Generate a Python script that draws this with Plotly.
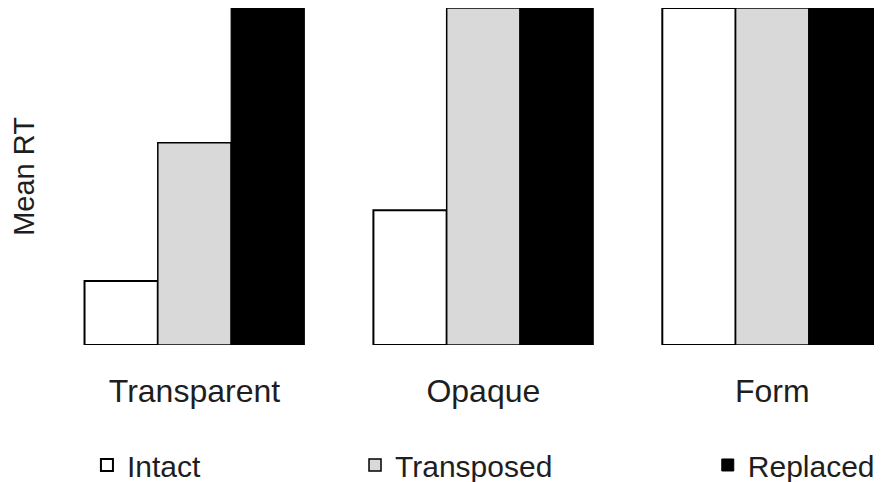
import plotly.graph_objects as go

categories = ["Transparent", "Opaque", "Form"]
series_names = ["Intact", "Transposed", "Replaced"]
intact = [0.19, 0.40, 1.0]
transposed = [0.60, 1.0, 1.0]
replaced = [1.0, 1.0, 1.0]

fills = ["#ffffff", "#d9d9d9", "#000000"]
line_widths = [2, 1.5, 1]
legend_ids = ["legend2", "legend3", "legend4"]

fig = go.Figure()
for name, vals, fc, lw, lg in zip(series_names, [intact, transposed, replaced], fills, line_widths, legend_ids):
    fig.add_trace(go.Bar(
        x=categories, y=vals, name=name,
        marker=dict(color=fc, line=dict(color="#000000", width=lw)),
        legend=lg,
    ))

font_family = "Liberation Sans, Arial, sans-serif"
leg_common = dict(orientation="h", xanchor="left", yanchor="middle", y=-0.356,
                  font=dict(family=font_family, size=30, color="#1e1e1e"),
                  bgcolor="rgba(0,0,0,0)", borderwidth=0)

# page body adds an 8px offset; margins compensate for it
fig.update_layout(
    width=882, height=482,
    margin=dict(l=42, r=8, t=0, b=145, autoexpand=False),
    paper_bgcolor="white", plot_bgcolor="white",
    barmode="group", bargap=0.239, bargroupgap=0,
    font=dict(family=font_family, color="#1e1e1e"),
    xaxis=dict(
        type="category", range=[-0.5, 2.38], showgrid=False, zeroline=False,
        showline=False, ticks="", ticklabelstandoff=24, automargin=False,
        tickfont=dict(family=font_family, size=32, color="#1e1e1e"),
    ),
    yaxis=dict(
        range=[0, 1], showgrid=False, zeroline=False, showline=False,
        showticklabels=False, ticks="", automargin=False,
        title=dict(text="Mean RT", font=dict(family=font_family, size=29, color="#1e1e1e"), standoff=10),
    ),
    legend2=dict(x=0.0444, **leg_common),
    legend3=dict(x=0.3666, **leg_common),
    legend4=dict(x=0.7906, **leg_common),
)

fig.write_html("out.html")
